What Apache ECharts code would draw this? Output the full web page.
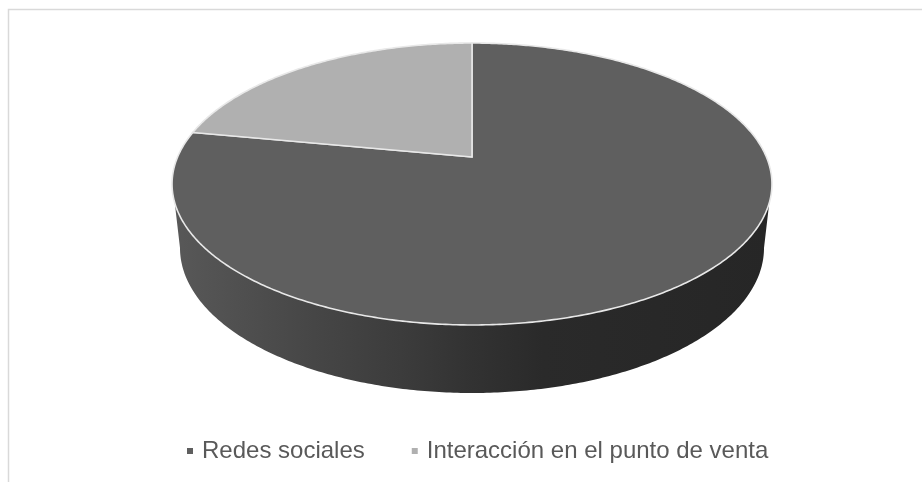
<!DOCTYPE html>
<html><head><meta charset="utf-8">
<style>html,body{margin:0;padding:0;background:#fff}#c{width:922px;height:482px}</style>
<script src="https://cdn.jsdelivr.net/npm/echarts@6/dist/echarts.min.js"></script>
</head><body><div id="c"></div>
<script>
const categories = ['Redes sociales', 'Interacción en el punto de venta'];
const values = [78, 22];
const colors = ['#5f5f5f', '#b0b0b0'];

// Perspective projection of the pie's top disc and its lower rim
const apex = {x: 472, y: 157}, persp = -0.1915, A = 294.4, B = 135.8;
const rim = {cx: 472, cy: 248, rx: 292, ry: 145};
const sideFrom = 108.5 * Math.PI / 180, sideTo = 251.5 * Math.PI / 180;
const total = values.reduce((a, b) => a + b, 0);

function topPoint(t) {
  const u = Math.sin(t), v = -Math.cos(t), d = 1 + persp * v;
  return [apex.x + A * u / d, apex.y + B * v / d];
}
function rimPoint(t) {
  const phi = (t - sideFrom) / (sideTo - sideFrom) * Math.PI;
  return [rim.cx + rim.rx * Math.cos(phi), rim.cy + rim.ry * Math.sin(phi)];
}
function arc(f, a, b) {
  const n = Math.max(2, Math.ceil((b - a) / 0.01)), pts = [];
  for (let i = 0; i <= n; i++) pts.push(f(a + (b - a) * i / n));
  return pts;
}
function renderSlice(index) {
  let before = 0;
  for (let i = 0; i < index; i++) before += values[i];
  const a = before / total * 2 * Math.PI;
  const b = (before + values[index]) / total * 2 * Math.PI;
  const children = [];
  const sa = Math.max(a, sideFrom), sb = Math.min(b, sideTo);
  if (sb > sa) {
    children.push({
      type: 'polygon',
      shape: {points: arc(topPoint, sa, sb).concat(arc(rimPoint, sa, sb).reverse())},
      style: {
        fill: new echarts.graphic.LinearGradient(0, 0, 1, 0, [
          {offset: 0, color: '#585858'},
          {offset: 0.22, color: '#474747'},
          {offset: 0.38, color: '#3c3c3c'},
          {offset: 0.5, color: '#323232'},
          {offset: 0.62, color: '#2a2a2a'},
          {offset: 1, color: '#262626'}
        ]),
        stroke: null
      }
    });
  }
  children.push({
    type: 'polygon',
    shape: {points: [[apex.x, apex.y]].concat(arc(topPoint, a, b))},
    style: {fill: colors[index], stroke: '#e8e8e8', lineWidth: 1.6, lineJoin: 'miter'}
  });
  return {type: 'group', children};
}

const chart = echarts.init(document.getElementById('c'), null, {renderer: 'canvas'});
chart.setOption({
  animation: false,
  backgroundColor: '#ffffff',
  legend: {
    data: categories.map(name => ({name, icon: 'rect'})),
    left: 187, top: 439, padding: 0,
    itemWidth: 6, itemHeight: 6, itemGap: 47,
    selectedMode: false,
    textStyle: {fontFamily: 'Liberation Sans', fontSize: 24, color: '#595959', padding: [0, 0, 0, 4]}
  },
  graphic: [{
    type: 'polyline', silent: true,
    shape: {points: [[8.5, 482], [8.5, 9.5], [922, 9.5]]},
    style: {fill: null, stroke: '#d9d9d9', lineWidth: 1.5}
  }],
  series: categories.map((name, i) => ({
    type: 'custom',
    name,
    coordinateSystem: 'none',
    itemStyle: {color: colors[i]},
    silent: true,
    data: [values[i]],
    renderItem: () => renderSlice(i)
  }))
});
</script></body></html>
